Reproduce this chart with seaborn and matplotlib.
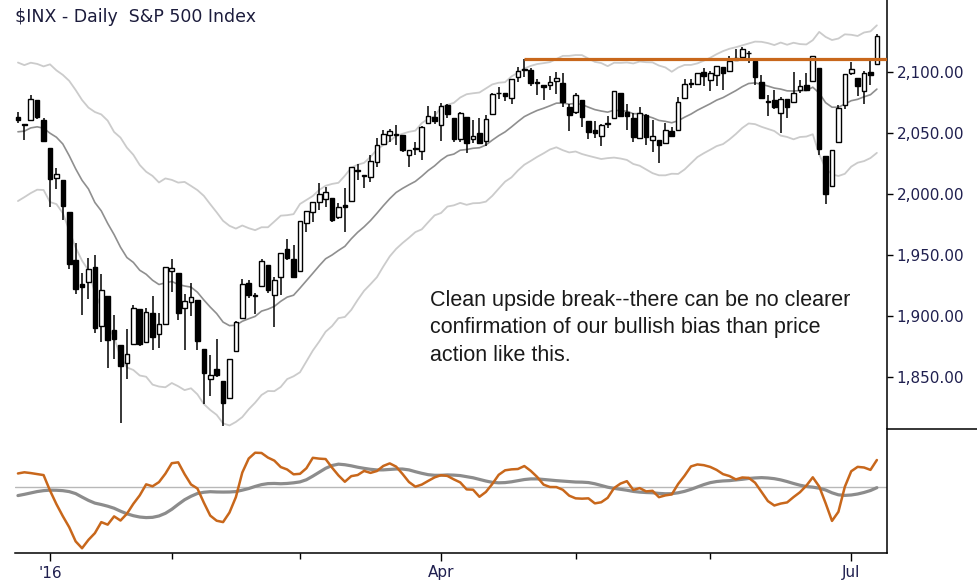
import numpy as np
import pandas as pd
import seaborn as sns
import matplotlib
matplotlib.use("Agg")
import matplotlib.pyplot as plt
from matplotlib.lines import Line2D

# S&P 500 daily sessions shown on the chart (24 Dec 2015 .. 8 Jul 2016)
holidays = ["2015-12-25", "2016-01-01", "2016-01-18", "2016-02-15",
            "2016-03-25", "2016-05-30", "2016-07-04"]

# bars before the first visible one (16 Nov .. 23 Dec 2015), only used to warm up the indicators
warmup_highs = [
    2053.22, 2066.69, 2085.31, 2086.74, 2097.06, 2095.61, 2094.12, 2093.00,
    2093.29, 2093.81, 2103.37, 2104.27, 2085.00, 2093.84, 2090.42, 2073.85,
    2080.33, 2067.65, 2047.27, 2022.92, 2053.87, 2076.72, 2076.37, 2040.81,
    2022.90, 2042.74, 2064.73,
]
warmup_lows = [
    2019.39, 2045.90, 2051.99, 2078.76, 2082.82, 2081.39, 2070.29, 2086.30,
    2084.13, 2080.41, 2082.93, 2077.11, 2042.35, 2051.24, 2066.78, 2052.32,
    2036.53, 2045.67, 2008.80, 1993.26, 2025.55, 2042.43, 2041.66, 2005.33,
    2005.93, 2020.49, 2042.20,
]
warmup_closes = [
    2053.19, 2050.44, 2083.58, 2081.24, 2089.17, 2086.59, 2089.14, 2088.87,
    2090.11, 2080.41, 2102.63, 2079.51, 2049.62, 2091.69, 2077.07, 2063.59,
    2047.62, 2052.23, 2012.37, 2021.94, 2043.41, 2073.07, 2041.89, 2005.55,
    2021.15, 2038.97, 2064.29,
]

opens = [
    2063.52, 2057.77, 2060.54, 2077.34, 2060.59,
    2038.20, 2013.78, 2011.71, 1985.32, 1945.97, 1926.12, 1927.83, 1940.34, 1891.68, 1916.68,
    1888.66, 1876.18, 1861.46, 1877.40, 1906.28, 1878.79, 1902.52, 1885.22, 1894.00,
    1936.94, 1935.26, 1907.07, 1911.67, 1913.07, 1873.25, 1848.46, 1857.10, 1847.00, 1833.40,
    1871.44, 1898.80, 1927.57, 1916.74, 1924.44, 1942.38, 1917.56, 1931.87, 1954.95, 1947.13,
    1937.09, 1976.60, 1985.60, 1994.01, 1996.11, 1996.88, 1981.44, 1990.97, 1994.71, 2019.27,
    2015.27, 2014.24, 2026.90, 2041.16, 2048.64, 2048.64, 2048.55, 2032.48, 2037.89, 2035.75,
    2058.27, 2063.77,
    2056.62, 2073.19, 2062.50, 2045.56, 2063.01, 2045.54, 2050.23, 2043.72, 2065.92, 2082.89,
    2083.10, 2078.83, 2096.05, 2101.52, 2102.09, 2091.49, 2089.37, 2089.84, 2092.57, 2090.93,
    2071.82,
    2067.17, 2077.18, 2060.30, 2052.95, 2047.77, 2057.55, 2062.63, 2083.29, 2067.17, 2062.50,
    2046.53, 2065.04, 2044.38, 2044.21, 2041.88, 2052.23, 2052.65, 2078.93, 2091.44, 2090.06,
    2100.13,
    2093.94, 2097.71, 2104.07, 2100.83, 2110.18, 2112.71, 2115.65, 2109.57, 2091.75, 2076.65,
    2077.60, 2066.36, 2078.20, 2075.58, 2085.19, 2089.75, 2092.80, 2103.81, 2031.45, 2006.67,
    2042.69, 2073.17,
    2099.34, 2095.05, 2084.43, 2100.42, 2106.97,
]
highs = [
    2067.36, 2057.77, 2081.56, 2077.34, 2062.54,
    2038.20, 2021.94, 2011.71, 1985.32, 1960.40, 1935.65, 1947.38, 1950.33, 1934.47, 1916.68,
    1901.44, 1876.18, 1889.85, 1908.85, 1906.28, 1906.73, 1916.99, 1902.96, 1940.24,
    1947.20, 1935.26, 1918.01, 1927.35, 1913.07, 1873.25, 1868.25, 1881.60, 1847.00, 1864.78,
    1895.77, 1930.68, 1930.00, 1918.78, 1946.70, 1942.38, 1932.08, 1951.83, 1962.96, 1958.27,
    1978.35, 1986.51, 1993.69, 2009.13, 2006.12, 1996.88, 1992.69, 2005.08, 2022.37, 2024.57,
    2015.94, 2032.02, 2046.24, 2052.36, 2053.91, 2056.60, 2048.55, 2036.04, 2042.67, 2055.91,
    2072.21, 2067.92,
    2075.07, 2074.02, 2062.50, 2067.33, 2063.01, 2060.63, 2062.93, 2065.05, 2083.18, 2087.84,
    2083.22, 2094.66, 2104.05, 2111.05, 2103.78, 2094.32, 2089.37, 2096.87, 2099.89, 2099.30,
    2073.85,
    2083.42, 2077.18, 2060.30, 2060.23, 2057.72, 2064.15, 2084.87, 2083.29, 2073.99, 2066.79,
    2071.88, 2065.69, 2060.61, 2044.21, 2058.35, 2055.58, 2079.67, 2094.73, 2094.30, 2099.06,
    2103.48,
    2100.97, 2105.26, 2104.07, 2113.36, 2119.22, 2120.55, 2117.64, 2109.57, 2098.12, 2081.30,
    2085.65, 2079.62, 2078.20, 2100.66, 2093.66, 2099.71, 2113.32, 2103.81, 2031.45, 2036.09,
    2073.13, 2098.94,
    2108.71, 2095.05, 2100.72, 2109.08, 2131.71,
]
lows = [
    2058.73, 2044.20, 2060.54, 2061.97, 2043.62,
    1989.68, 2004.17, 1979.05, 1938.83, 1918.46, 1901.10, 1914.35, 1886.41, 1878.93, 1857.83,
    1864.60, 1812.29, 1848.98, 1877.40, 1875.97, 1878.79, 1872.70, 1873.65, 1894.00,
    1920.03, 1897.29, 1872.23, 1900.52, 1872.65, 1828.46, 1834.94, 1850.32, 1810.10, 1833.40,
    1871.44, 1898.80, 1915.09, 1902.17, 1924.44, 1919.44, 1891.00, 1917.82, 1945.78, 1931.81,
    1937.09, 1968.80, 1977.37, 1986.77, 1989.38, 1977.43, 1979.84, 1969.25, 1994.71, 2012.05,
    2005.23, 2010.04, 2022.16, 2041.16, 2043.14, 2040.57, 2034.86, 2022.49, 2031.96, 2028.31,
    2058.27, 2057.46,
    2043.98, 2062.57, 2042.56, 2043.09, 2033.80, 2041.69, 2041.88, 2039.74, 2065.92, 2078.13,
    2076.31, 2073.65, 2091.68, 2096.32, 2088.52, 2081.20, 2077.52, 2085.80, 2082.31, 2071.62,
    2052.28,
    2066.11, 2054.89, 2045.55, 2045.77, 2039.45, 2054.31, 2062.63, 2064.46, 2053.13, 2043.13,
    2046.53, 2040.82, 2034.49, 2025.91, 2041.88, 2047.26, 2052.65, 2078.93, 2087.08, 2090.06,
    2088.66,
    2085.10, 2088.59, 2085.36, 2100.83, 2110.18, 2112.71, 2107.73, 2089.96, 2078.46, 2064.10,
    2069.80, 2050.37, 2062.84, 2075.58, 2083.02, 2084.36, 2092.80, 2032.57, 1991.68, 2006.67,
    2042.69, 2070.00,
    2097.90, 2080.86, 2074.02, 2089.39, 2106.97,
]
closes = [
    2060.99, 2056.50, 2078.36, 2063.36, 2043.94,
    2012.66, 2016.71, 1990.26, 1943.09, 1922.03, 1923.67, 1938.68, 1890.28, 1921.84, 1880.33,
    1881.33, 1859.33, 1868.99, 1906.90, 1877.08, 1903.63, 1882.95, 1893.36, 1940.24,
    1939.38, 1903.03, 1912.53, 1915.45, 1880.05, 1853.44, 1852.21, 1851.86, 1829.08, 1864.78,
    1895.58, 1926.82, 1917.83, 1917.78, 1945.50, 1921.27, 1929.80, 1951.70, 1948.05, 1932.23,
    1978.35, 1986.45, 1993.40, 1999.99, 2001.76, 1979.26, 1989.26, 1989.57, 2022.19, 2019.64,
    2015.93, 2027.22, 2040.59, 2049.58, 2051.60, 2049.80, 2036.71, 2035.94, 2037.05, 2055.01,
    2063.95, 2059.74,
    2072.78, 2066.13, 2045.17, 2066.66, 2041.91, 2047.60, 2041.99, 2061.72, 2082.42, 2082.78,
    2080.73, 2094.34, 2100.80, 2102.40, 2091.48, 2091.58, 2087.79, 2091.70, 2095.15, 2075.81,
    2065.30,
    2081.43, 2063.37, 2051.12, 2050.63, 2057.14, 2058.69, 2084.39, 2064.46, 2064.11, 2046.61,
    2066.66, 2047.21, 2047.63, 2040.04, 2052.32, 2048.04, 2076.06, 2090.54, 2090.10, 2099.06,
    2096.95,
    2099.33, 2105.26, 2099.13, 2109.41, 2112.13, 2119.12, 2115.48, 2096.07, 2079.06, 2075.32,
    2071.50, 2077.99, 2071.22, 2083.25, 2088.90, 2085.45, 2113.32, 2037.41, 2000.54, 2036.09,
    2070.77, 2098.86,
    2102.95, 2088.55, 2099.73, 2097.90, 2129.90,
]

price_ticks = [1850, 1900, 1950, 2000, 2050, 2100]
major_months = {1: "'16", 4: "Apr", 7: "Jul"}
resistance_date = "2016-04-20"
note = ("Clean upside break--there can be no clearer\n"
        "confirmation of our bullish bias than price\n"
        "action like this.")

sessions = pd.bdate_range("2015-12-24", "2016-07-08")
sessions = sessions[~sessions.isin(pd.to_datetime(holidays))]

o = np.array(opens)
h = np.array(highs)
l = np.array(lows)
c = np.array(closes)
x = np.arange(len(sessions))
n = len(x)

# Keltner channel: 20-period EMA +/- 2.25 x average range
fc = pd.Series(warmup_closes + closes)
fh = pd.Series(warmup_highs + highs)
fl = pd.Series(warmup_lows + lows)
rng = (fh - fl).ewm(span=20).mean()
ema = fc.ewm(span=20).mean()
mid = ema.to_numpy()[-n:]
upper = (ema + 2.25 * rng).to_numpy()[-n:]
lower = (ema - 2.25 * rng).to_numpy()[-n:]

# 3-10 oscillator with 16-period signal line
osc = fc.rolling(3).mean() - fc.rolling(10).mean()
signal = osc.rolling(16).mean().to_numpy()[-n:]
osc = osc.to_numpy()[-n:]

sns.set_theme(style="white")
plt.rcParams["font.family"] = ["DejaVu Sans"]

W, H = 978, 584
fig = plt.figure(figsize=(W / 100, H / 100), dpi=100)
ax1 = fig.add_axes([15 / W, 1 - 429 / H, 872 / W, 429 / H])
ax2 = fig.add_axes([15 / W, 1 - 553 / H, 872 / W, 124 / H])

orange = "#c8671b"
ink = "#1f1f4f"

# price panel
sns.lineplot(x=x, y=upper, ax=ax1, color="#cbcbcb", lw=1.3, zorder=1)
sns.lineplot(x=x, y=lower, ax=ax1, color="#cbcbcb", lw=1.3, zorder=1)
sns.lineplot(x=x, y=mid, ax=ax1, color="#8f8f8f", lw=1.2, zorder=1)

up = c >= o
body_lo = np.minimum(o, c)
body_h = np.maximum(np.abs(c - o), 0.5)
ax1.vlines(x, l, h, color="black", lw=1.1, zorder=2)
ax1.bar(x[up], body_h[up], bottom=body_lo[up], width=0.72,
        facecolor="white", edgecolor="black", linewidth=1.0, zorder=3)
ax1.bar(x[~up], body_h[~up], bottom=body_lo[~up], width=0.72,
        facecolor="black", edgecolor="black", linewidth=1.0, zorder=3)

xmin, xmax = -0.46, 135.58
r = sessions.get_loc(pd.Timestamp(resistance_date))
ax1.hlines(h[r], x[r], xmax, color=orange, lw=2.3, zorder=4)

ax1.set_xlim(xmin, xmax)
ax1.set_ylim(1807.6, 2159.3)
ax1.set_xticks([])
ax1.yaxis.tick_right()
ax1.set_yticks(price_ticks)
ax1.set_yticklabels([f"{v:,.2f}" for v in price_ticks])
ax1.tick_params(axis="y", right=True, left=False, direction="out", length=4,
                width=1, color="black", labelcolor=ink, labelsize=11, pad=3)
for side in ["top", "left", "bottom"]:
    ax1.spines[side].set_visible(False)
ax1.spines["right"].set_color("black")
ax1.spines["right"].set_linewidth(1.1)

# oscillator panel
ax2.axhline(0, color="#b8b8b8", lw=1.0, zorder=1)
sns.lineplot(x=x, y=signal, ax=ax2, color="#8c8c8c", lw=2.3, zorder=2)
sns.lineplot(x=x, y=osc, ax=ax2, color=orange, lw=1.8, zorder=3)
ax2.set_xlim(xmin, xmax)
ax2.set_ylim(-81.3, 71.0)
ax2.set_yticks([])

month = sessions.month
starts = [i for i in range(1, n) if month[i] != month[i - 1]]
major = [i for i in starts if month[i] in major_months]
minor = [i for i in starts if month[i] not in major_months]
ax2.set_xticks(major)
ax2.set_xticklabels([major_months[month[i]] for i in major])
ax2.set_xticks(minor, minor=True)
ax2.tick_params(axis="x", which="major", bottom=True, direction="out", length=6,
                width=1, color="black", labelcolor=ink, labelsize=11, pad=3)
ax2.tick_params(axis="x", which="minor", bottom=True, direction="out", length=4,
                width=1, color="black")
for side in ["top", "left"]:
    ax2.spines[side].set_visible(False)
for side in ["bottom", "right"]:
    ax2.spines[side].set_color("black")
    ax2.spines[side].set_linewidth(1.1)

fig.add_artist(Line2D([887 / W, 1], [1 - 429 / H] * 2, color="black", lw=1.1,
                      transform=fig.transFigure))

fig.text(15 / W, 1 - 8 / H, "\\$INX - Daily  S&P 500 Index", fontsize=12.5,
         color="#1c1c3c", va="top", ha="left")
fig.text(430 / W, 1 - 290 / H, note, fontsize=15.5, family=["Liberation Sans"],
         color="#1a1a1a", va="top", ha="left", linespacing=1.4)

fig.savefig("out.png", dpi=100)
